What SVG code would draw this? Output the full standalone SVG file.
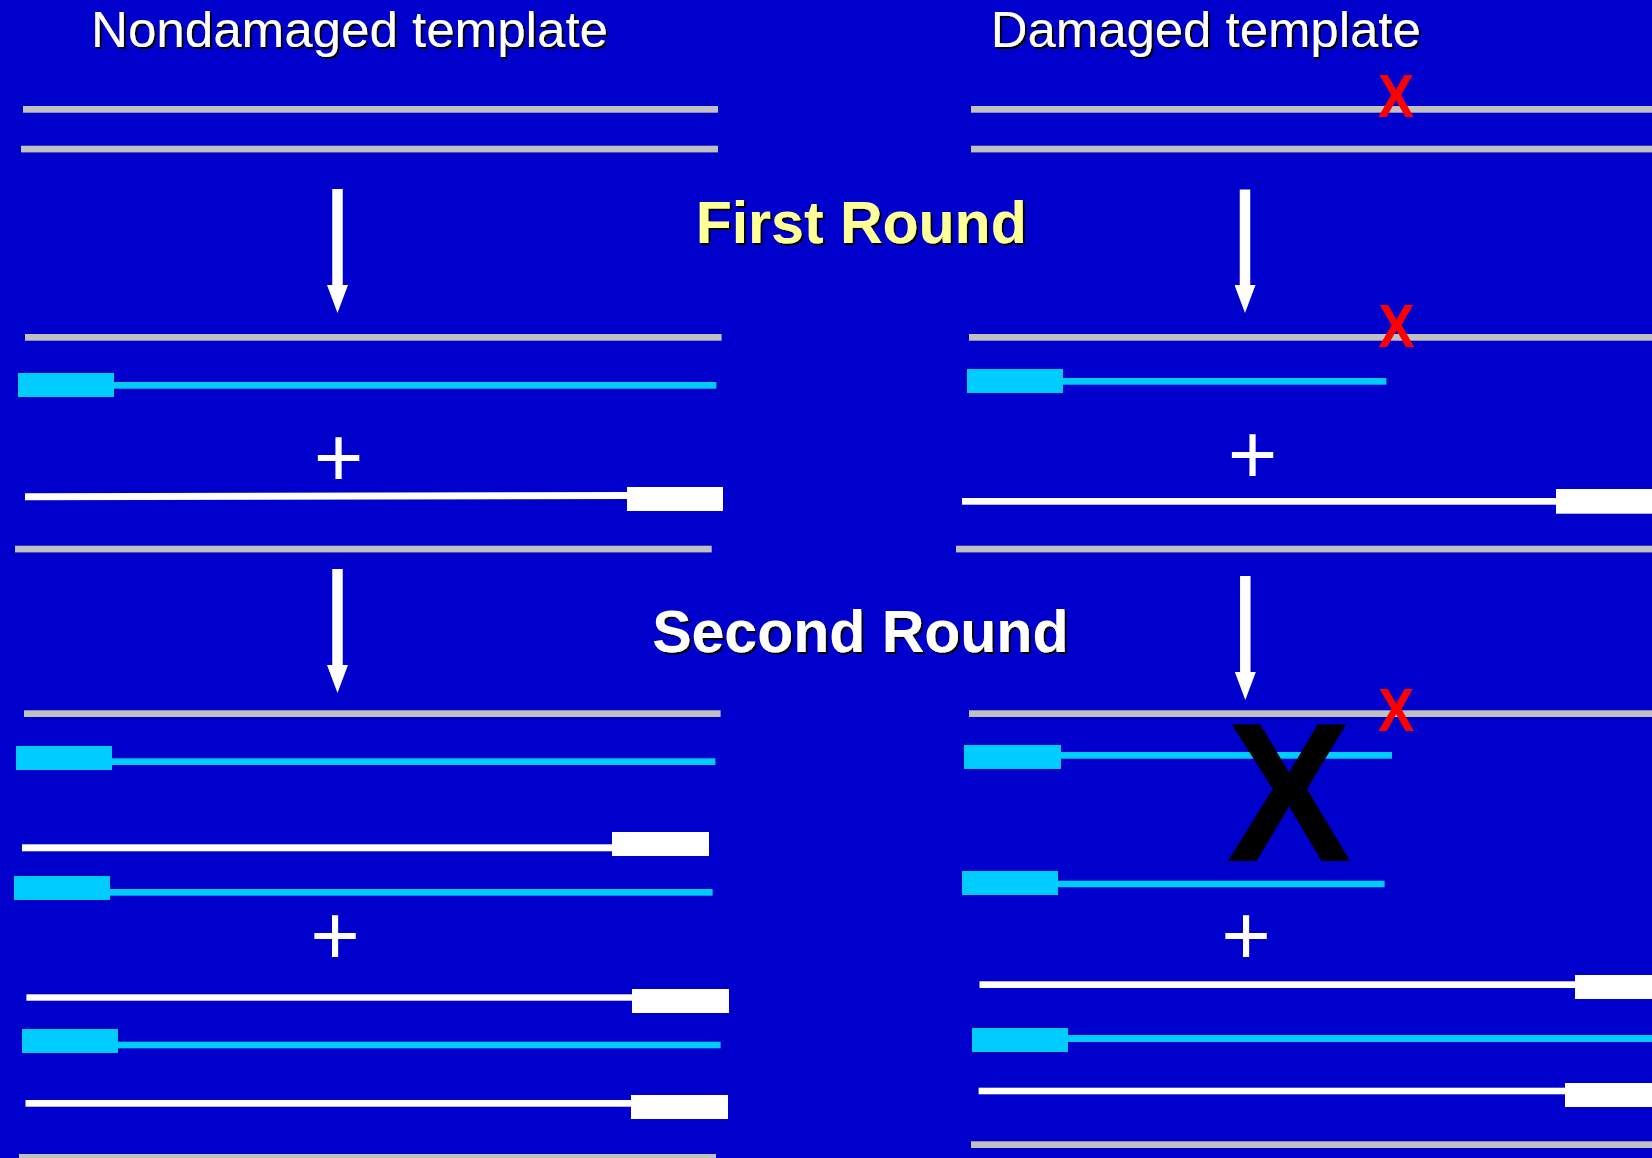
<svg xmlns="http://www.w3.org/2000/svg" width="1652" height="1158" viewBox="0 0 1652 1158">
<style>
.bg{fill:#0000CC}
.tpl{fill:#C0C0C0}
.cy{fill:#00CCFF}
.wh{fill:#FFFFFF}
.title{font-family:"Liberation Sans",Arial,sans-serif;font-size:50px;fill:#FFFFFF;filter:url(#sh)}
.round{font-family:"Liberation Sans",Arial,sans-serif;font-size:59px;font-weight:bold;filter:url(#sh)}
.plus{font-family:"Liberation Sans",Arial,sans-serif;font-size:85px;fill:#FFFFFF;text-anchor:middle}
.rx{font-family:"Liberation Sans",Arial,sans-serif;font-size:62px;font-weight:bold;fill:#FF0000;text-anchor:middle}
.bx{font-family:"Liberation Sans",Arial,sans-serif;font-size:198px;font-weight:bold;fill:#000000;text-anchor:middle}
.arrow{stroke:#FFFFFF;stroke-width:10.5;fill:none;marker-end:url(#ah)}
</style>
<defs>
<filter id="sh" x="-5%" y="-20%" width="110%" height="140%">
<feDropShadow dx="2" dy="2" stdDeviation="0.6" flood-color="#000000" flood-opacity="1"/>
</filter>
<marker id="ah" markerUnits="userSpaceOnUse" viewBox="0 0 28 21" markerWidth="28" markerHeight="21" refX="0" refY="10.5" orient="auto">
<path d="M0,0 L28,10.5 L0,21 Z" fill="#FFFFFF"/>
</marker>
</defs>
<rect class="bg" x="0" y="0" width="1652" height="1158"/>

<g id="titles">
<text class="title" x="91" y="46.5" textLength="517" lengthAdjust="spacingAndGlyphs">Nondamaged template</text>
<text class="title" x="990.7" y="46.5" textLength="430" lengthAdjust="spacingAndGlyphs">Damaged template</text>
<text class="round" x="695.7" y="242.7" fill="#FFFF99">First Round</text>
<text class="round" x="652.2" y="651.7" fill="#FFFFFF">Second Round</text>
</g>

<g id="left-start">
<rect class="tpl" x="23" y="106" width="695" height="6.7"/>
<rect class="tpl" x="21" y="145.7" width="697" height="6.7"/>
</g>
<g id="right-start">
<rect class="tpl" x="971" y="106" width="681" height="6.7"/>
<rect class="tpl" x="971" y="145.7" width="681" height="6.7"/>
<text class="rx" transform="translate(1396,116.7) scale(0.88,1)">X</text>
</g>

<g id="left-round1">
<rect class="tpl" x="25" y="334" width="696.6" height="6.7"/>
<rect class="cy" x="18" y="373" width="96" height="24"/>
<rect class="cy" x="114" y="382" width="602.4" height="6.7"/>
<text class="plus" x="338.5" y="487">+</text>
<line x1="25" y1="496.7" x2="627" y2="495.5" stroke="#FFFFFF" stroke-width="7"/>
<rect class="wh" x="627" y="487" width="96" height="24"/>
<rect class="tpl" x="15" y="545.7" width="696.7" height="6.7"/>
</g>

<g id="right-round1">
<rect class="tpl" x="969" y="334" width="683" height="6.7"/>
<text class="rx" transform="translate(1396.4,347.3) scale(0.88,1)">X</text>
<rect class="cy" x="967" y="369" width="96" height="24"/>
<rect class="cy" x="1063" y="378" width="323.4" height="6.7"/>
<text class="plus" x="1252.6" y="483.5">+</text>
<rect class="wh" x="962" y="498" width="594" height="6.7"/>
<rect class="wh" x="1556" y="489" width="96" height="24.7"/>
<rect class="tpl" x="956" y="545.7" width="696" height="6.7"/>
</g>

<g id="left-round2">
<rect class="tpl" x="24" y="710.3" width="696.6" height="6.7"/>
<rect class="cy" x="16" y="746" width="96" height="24"/>
<rect class="cy" x="112" y="758.3" width="603.4" height="6.7"/>
<rect class="wh" x="22" y="844.3" width="590" height="7"/>
<rect class="wh" x="612" y="832" width="97" height="24"/>
<rect class="cy" x="14" y="876" width="96" height="24"/>
<rect class="cy" x="110" y="889" width="602.6" height="6.7"/>
<text class="plus" x="335" y="965">+</text>
<rect class="wh" x="26.4" y="994.3" width="605.6" height="6.4"/>
<rect class="wh" x="632" y="989" width="97" height="24"/>
<rect class="cy" x="22" y="1029" width="96" height="24"/>
<rect class="cy" x="118" y="1041.7" width="602.6" height="6.6"/>
<rect class="wh" x="25.5" y="1100" width="605.5" height="6.7"/>
<rect class="wh" x="631" y="1095" width="97" height="24"/>
<rect class="tpl" x="19" y="1154" width="697" height="6.7"/>
</g>

<g id="right-round2">
<rect class="tpl" x="969" y="710.3" width="683" height="6.7"/>
<text class="rx" transform="translate(1396.2,731) scale(0.88,1)">X</text>
<rect class="cy" x="964" y="745" width="97" height="24"/>
<rect class="cy" x="1061" y="752" width="331" height="6.7"/>
<text class="bx" transform="translate(1289,861) scale(0.95,1)">X</text>
<rect class="cy" x="962" y="871" width="96" height="24"/>
<rect class="cy" x="1058" y="880.7" width="326.6" height="6.6"/>
<text class="plus" x="1246" y="965">+</text>
<rect class="wh" x="979.5" y="981.3" width="595.5" height="6.7"/>
<rect class="wh" x="1575" y="975" width="77" height="24"/>
<rect class="cy" x="972" y="1028" width="96" height="24"/>
<rect class="cy" x="1068" y="1035" width="584" height="7"/>
<rect class="wh" x="978.6" y="1087.7" width="586.4" height="6.6"/>
<rect class="wh" x="1565" y="1083" width="87" height="24"/>
<rect class="tpl" x="971" y="1141.3" width="681" height="6.7"/>
</g>

<g id="connectors">
<path class="arrow" d="M337.5,189 L337.5,285"/>
<path class="arrow" d="M1245,189.5 L1245,285"/>
<path class="arrow" d="M337.5,569 L337.5,665"/>
<path class="arrow" d="M1245.3,576 L1245.3,672"/>
</g>
</svg>
